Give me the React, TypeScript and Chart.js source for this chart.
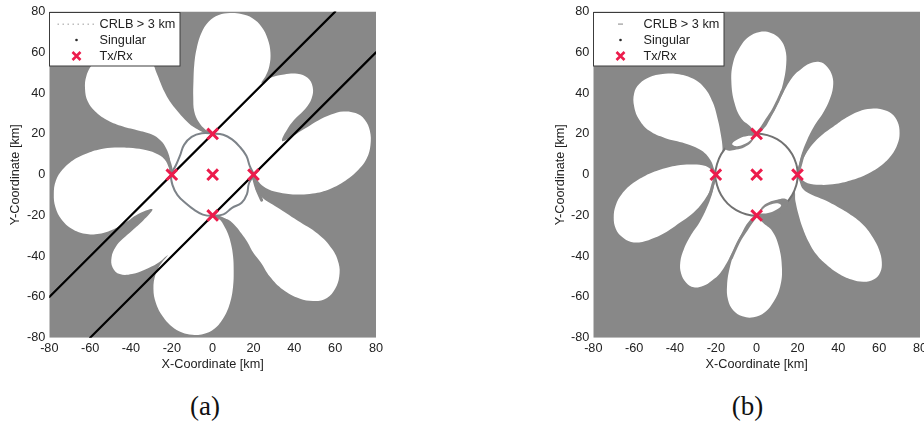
import React, { useEffect, useRef } from 'react';
import { Chart, registerables } from 'chart.js';

Chart.register(...registerables);

type Pt = [number, number];

// ---------- shared axis / text data ----------
const tickValues: number[] = [-80, -60, -40, -20, 0, 20, 40, 60, 80];
const xTitle = 'X-Coordinate [km]';
const yTitle = 'Y-Coordinate [km]';
const legendLabels: string[] = ['CRLB > 3 km', 'Singular', 'Tx/Rx'];
const captionLabels: string[] = ['(a)', '(b)'];

// Transmitter / receiver positions [km]
const txRx: Pt[] = [[0, 0], [0, 20], [20, 0], [0, -20], [-20, 0]];

// CRLB > 3 km region: whole window (the low-CRLB lobes are drawn over it)
const crlbWindow: Pt[] = [[-80, -80], [80, -80], [80, 80], [-80, 80], [-80, -80]];

// ---------- panel (a) ----------
const singularA1: Pt[] = [[-80, -60], [60, 80]];
const singularA2: Pt[] = [[-60, -80], [80, 60]];

const lobesA_NE: Pt[] = [
  [0, 12], [-1, 20.5], [-3.5, 22], [-6.8, 25.8], [-9, 31], [-9.5, 38], [-9.4, 46], [-9, 54], [-7.8, 62],
  [-5.5, 69.5], [-2, 75], [3, 78.3], [8.5, 79.3], [14, 78.8], [19.5, 76.8], [24, 72.5], [27, 66.5],
  [28.3, 60], [27.8, 53.5], [26, 48.5], [24, 45],
  [29, 47.8], [35, 49.2], [41.5, 49.5], [46.5, 47.5], [49, 43], [48.5, 37.5], [45.5, 32.5], [41, 28],
  [37, 23], [34, 16.5],
  [39, 18.8], [45, 22.5], [51.5, 26.5], [58, 29.5], [64, 31], [70, 30.2], [74.5, 27], [77, 21.5],
  [77.3, 14.5], [75.5, 8], [71.5, 2.5], [65, -3], [57.5, -7], [49, -9.3], [40.5, -9.7], [32, -8.6],
  [26, -6.5], [22.5, -3.5], [20.5, 0], [12, 2], [0, 12],
];
const lobesA_SW: Pt[] = [
  [0, -12], [1, -20.5], [3.5, -22], [5.5, -25], [7.5, -29], [9, -34], [10, -40], [10.3, -47], [10, -55],
  [8.5, -63], [5.5, -70], [1, -75.5], [-4.5, -78.2], [-10, -78.6], [-15, -77.5], [-20, -74.5],
  [-24.5, -69.5], [-27.8, -63], [-29, -56], [-28, -49], [-25.5, -44], [-22, -39.5],
  [-27, -43.5], [-33, -46.5], [-39.5, -48.8], [-45.5, -48.8], [-49, -45.5], [-49.5, -40.5],
  [-47.5, -35.5], [-44, -31.5], [-39.5, -27.5], [-34, -22.5], [-29.5, -17],
  [-36, -19], [-42, -23], [-48.5, -26.8], [-55.5, -29], [-62.5, -29], [-69, -26.5], [-74, -22],
  [-77, -16], [-77.8, -9.5], [-76.8, -3], [-73.5, 2.5], [-68.5, 7], [-62, 10.3], [-55, 12.5],
  [-48, 13.3], [-41, 13.2], [-34, 12.3], [-28, 10.5], [-23.5, 7.5], [-21.5, 3.5], [-20.5, 0],
  [-12, -2], [0, -12],
];
const lobeA_UL: Pt[] = [
  [-12, 10], [-20.3, 2], [-21, 8], [-22.8, 13], [-25.5, 16.8], [-30, 19.8], [-37, 21.8], [-45, 24],
  [-52, 27], [-57.5, 31], [-61.2, 36], [-62.5, 42], [-61.8, 48.5], [-58.5, 54.5], [-52, 59.5],
  [-44, 61.5], [-36, 59.5], [-30, 55.5], [-27.5, 50], [-25.5, 45], [-23.8, 41], [-21, 36],
  [-17.5, 31.5], [-13.5, 27], [-9.5, 23.5], [-5, 21.3], [-1.5, 20.5], [-5, 15], [-12, 10],
];
const lobeA_LR: Pt[] = [
  [12, -10], [20.3, -2], [21, -7], [24.5, -11.5], [31.5, -16], [41.5, -22.5], [51.5, -29],
  [58.5, -36.5], [61.7, -43.5], [62, -50], [60, -56], [56, -60.5], [50, -62], [42.5, -60.8],
  [34.5, -56.5], [28, -50], [23.5, -43], [20, -38.5], [17, -33], [14.2, -29], [11.5, -25.5],
  [7.5, -22], [3, -20.8], [5, -15], [12, -10],
];
const coreA: Pt[] = [
  [20.3, 0], [18.2, 4.2], [16.5, 9.3], [13.2, 13.8], [9.5, 17.3], [5.2, 19.6], [0, 20.2], [-5.3, 20.3],
  [-10.3, 18.5], [-14, 14.6], [-15.9, 9.6], [-18, 4.6], [-20.3, 0], [-19.7, -5], [-17.2, -10],
  [-13, -14.2], [-9, -17.3], [-4.8, -19.6], [0, -20.2], [5.3, -19.5], [9.5, -16.3], [14.2, -13.8],
  [16.8, -9.6], [17.8, -4.2], [20.3, 0],
];
const gapsA: Pt[][] = [
  [[-9, 24.5], [-6, 22.3], [-3, 20.9], [0, 20]],
  [[-24, 12.5], [-21.6, 7], [-20.4, 3], [-20, 0]],
  [[24, -12.5], [21.6, -7], [20.4, -3], [20, 0]],
  [[9, -24.5], [6, -22.3], [3, -20.9], [0, -20]],
];

// ---------- panel (b) ----------
const lobeB_T: Pt[] = [
  [0, 14], [-1, 20.5], [-3, 23.5], [-7.5, 27.5], [-10.8, 35], [-12.4, 46], [-11.5, 55], [-8.5, 62],
  [-4, 67.5], [1.5, 70], [7, 69.5], [11.5, 66.5], [14, 61.5], [14.5, 54.5], [13, 45], [9.8, 35.5],
  [5.5, 27.5], [2, 22], [1, 20.5], [0, 14],
];
const lobeB_UR: Pt[] = [
  [10, 10], [1.5, 19.8], [3, 22], [5, 24.5], [8, 30.2], [12.9, 40], [17.8, 48.2], [22, 52], [26, 54.5],
  [30.8, 55.3], [34.5, 53], [37, 48.5], [37.4, 43], [35.7, 36.7], [32.5, 30.2], [28, 23.5],
  [24.5, 16.5], [22, 10], [20.5, 4], [19.8, 1.5], [10, 10],
];
const lobeB_R: Pt[] = [
  [12, 2], [20.5, 0.5], [21.5, 5], [24, 10], [27.5, 15], [32, 19.5], [37.5, 23.5], [44, 28], [50, 31],
  [56, 32.3], [61.5, 32], [66, 30], [69, 26], [70, 20.5], [69, 15], [66, 9.5], [61, 4.5], [54.5, 0.5],
  [47, -2.5], [39, -4.5], [31, -5], [25, -4.2], [21.5, -2], [12, 2],
];
const lobeB_LR: Pt[] = [
  [12, -6], [19.5, -1.5], [22.7, -7], [27, -9.8], [33, -12.3], [40.6, -16.3], [47, -20.3], [52.5, -25],
  [57, -31], [60, -37], [61.3, -43], [60.5, -48], [57.5, -51.3], [52.5, -52.6], [46.5, -51.5],
  [40, -48.5], [34, -44], [29.2, -39.1], [25.5, -33], [22.5, -26], [20.5, -19.5], [19, -13], [18, -7],
  [12, -6],
];
const lobeB_B: Pt[] = [
  [0, -14], [1, -20.5], [3, -23.5], [7.5, -27.5], [10.8, -35], [12.4, -46], [11.5, -55], [8.5, -62],
  [4, -67.5], [-1.5, -70], [-7, -69.5], [-11.5, -66.5], [-14, -61.5], [-14.5, -54.5], [-13, -45],
  [-9.8, -35.5], [-5.5, -27.5], [-2, -22], [-1, -20.5], [0, -14],
];
const lobeB_LL: Pt[] = [
  [-10, -10], [-1.5, -19.8], [-3, -22], [-5, -24.5], [-8, -30.2], [-12.9, -40], [-17.8, -48.2],
  [-22, -52], [-26, -54.5], [-30.8, -55.3], [-34.5, -53], [-37, -48.5], [-37.4, -43], [-35.7, -36.7],
  [-32.5, -30.2], [-28, -23.5], [-24.5, -16.5], [-22, -10], [-20.5, -4], [-19.8, -1.5], [-10, -10],
];
const lobeB_L: Pt[] = [
  [-12, -2], [-20.5, -0.5], [-21.5, -5], [-24, -10], [-27.5, -15], [-32, -19.5], [-37.5, -23.5],
  [-44, -28], [-50, -31], [-56, -33], [-61.5, -33], [-66, -30.5], [-69, -26.5], [-70, -21], [-69, -15],
  [-66, -9.5], [-61, -4.5], [-54.5, -0.5], [-47, 2.5], [-39, 4.5], [-31, 5], [-25, 4.2], [-21.5, 2],
  [-12, -2],
];
const lobeB_UL: Pt[] = [
  [-12, 6], [-19.5, 1.5], [-22.5, 7], [-27, 11.8], [-35, 15.3], [-45, 18], [-52.5, 21.5], [-57.5, 27],
  [-60, 33.5], [-60, 40], [-57.5, 44.5], [-52, 48], [-45, 49.5], [-38, 49.3], [-31, 47], [-25.5, 42.5],
  [-21.5, 35.5], [-19, 27], [-17.5, 19.5], [-16.7, 13], [-17, 7], [-12, 6],
];
const coreB: Pt[] = [
  [20.3, 0], [19.4, 5.2], [17.4, 10], [14.2, 14.2], [10, 17.4], [5.2, 19.4], [0, 20.2], [-5.2, 19.4],
  [-10, 17.4], [-14.2, 14.2], [-17.4, 10], [-19.4, 5.2], [-20.3, 0], [-19.4, -5.2], [-17.4, -10],
  [-14.2, -14.2], [-10, -17.4], [-5.2, -19.4], [0, -20.2], [5.2, -19.4], [10, -17.4], [14.2, -14.2],
  [17.4, -10], [19.4, -5.2], [20.3, 0],
];
const gapsB: Pt[][] = [
  [[0, 20], [2.8, 23.5], [5.4, 27.5], [8, 31.5], [10.5, 36.5], [12.5, 41]],
  [[20, 0], [21.5, 5], [23, 10], [25.7, 15], [29, 19.5]],
  [[0, -20], [-2.8, -23.5], [-5.4, -27.5], [-8, -31.5], [-10.5, -36.5], [-12.5, -41]],
  [[-20, 0], [-21.5, -5], [-23, -10], [-25.7, -15], [-29, -19.5]],
];
const patchesB: Pt[][] = [
  [[-0.5, 20.5], [-5, 21], [-10, 20], [-13.5, 17.5], [-15.5, 13.5], [-14, 11.8], [-10, 12.3], [-6, 13.5], [-2.5, 16], [-0.5, 20.5]],
  [[0.5, -20.5], [5, -21], [10, -20], [13.5, -17.5], [15.5, -13.5], [14, -11.8], [10, -12.3], [6, -13.5], [2.5, -16], [0.5, -20.5]],
];
const lensesB: Pt[][] = [
  [[-1.5, 19], [-4.5, 19], [-8.5, 17.8], [-12, 15.2], [-10, 14], [-6.5, 14.8], [-3.5, 16.5], [-1.5, 19]],
  [[1.5, -19], [4.5, -19], [8.5, -17.8], [12, -15.2], [10, -14], [6.5, -14.8], [3.5, -16.5], [1.5, -19]],
];

// ---------- styles ----------
const CRLB_GRAY = '#888888';
const TX_RED = '#ec1c4c';
const FONT = '"Liberation Sans", Arial, Helvetica, sans-serif';
const TEXT = '#222222';

Chart.defaults.font.family = FONT;

const xy = (pts: Pt[]) => pts.map(([x, y]) => ({ x, y }));

function areaSet(pts: Pt[], color: string, order: number, tension = 0.4, border = 'rgba(0,0,0,0)', bw = 0, label = '') {
  return {
    label, data: xy(pts), showLine: true, fill: 'shape', backgroundColor: color,
    borderColor: border, borderWidth: bw, pointRadius: 0, pointHoverRadius: 0, tension, order,
  };
}
function strokeSet(pts: Pt[], color: string, width: number, order: number, tension = 0, label = '') {
  return {
    label, data: xy(pts), showLine: true, fill: false, borderColor: color, backgroundColor: color,
    borderWidth: width, pointRadius: 0, pointHoverRadius: 0, tension, order, borderCapStyle: 'round',
  };
}

interface PanelSpec {
  lobes: Pt[][];
  core: Pt[];
  coreColor: string;
  gaps: Pt[][];
  patches: Pt[][];
  lenses: Pt[][];
  singular: Pt[][];
  yAxisWidth: number;
  rightPad: number;
  yTitleOffset: number;
  crlbMarker: 'dots' | 'dash';
}

function legendPlugin(style: 'dots' | 'dash') {
  return {
    id: 'boxLegend',
    afterDraw(chart: any) {
      const { ctx, chartArea } = chart;
      const x0 = Math.round(chartArea.left) + 0.5;
      const y0 = Math.round(chartArea.top) + 0.5;
      const w = 130.5, h = 53.5;
      ctx.save();
      ctx.fillStyle = '#ffffff';
      ctx.fillRect(x0, y0, w, h);
      ctx.strokeStyle = '#3c3c3c';
      ctx.lineWidth = 1;
      ctx.strokeRect(x0, y0, w, h);
      const rows = [11.5, 27.5, 43.5];
      const mx = x0 + 27;
      ctx.font = `12.7px ${FONT}`;
      ctx.fillStyle = TEXT;
      ctx.textBaseline = 'middle';
      ctx.textAlign = 'left';
      legendLabels.forEach((t, i) => ctx.fillText(t, x0 + 50, y0 + rows[i]));
      // CRLB marker
      ctx.fillStyle = '#bdbdbd';
      if (style === 'dots') {
        for (let px = x0 + 8; px <= x0 + 44; px += 5) ctx.fillRect(px, y0 + rows[0] - 0.5, 1.5, 1.5);
      } else {
        ctx.fillStyle = '#9a9a9a';
        ctx.fillRect(mx - 2.5, y0 + rows[0] - 0.5, 5, 1.2);
      }
      // Singular marker
      ctx.fillStyle = '#2a2a2a';
      ctx.beginPath();
      ctx.arc(mx, y0 + rows[1], 1.3, 0, Math.PI * 2);
      ctx.fill();
      // Tx/Rx marker
      ctx.strokeStyle = TX_RED;
      ctx.lineWidth = 2.6;
      const r = 4, cy = y0 + rows[2];
      ctx.beginPath();
      ctx.moveTo(mx - r, cy - r); ctx.lineTo(mx + r, cy + r);
      ctx.moveTo(mx + r, cy - r); ctx.lineTo(mx - r, cy + r);
      ctx.stroke();
      ctx.restore();
    },
  };
}

function buildConfig(p: PanelSpec): any {
  const datasets: any[] = [];
  datasets.push(areaSet(crlbWindow, CRLB_GRAY, 100, 0, 'rgba(0,0,0,0)', 0, legendLabels[0]));
  p.lobes.forEach((l) => datasets.push(areaSet(l, '#ffffff', 90, 0.4)));
  p.gaps.forEach((g) => datasets.push(strokeSet(g, CRLB_GRAY, 3, 80, 0.4)));
  datasets.push(areaSet(p.core, '#ffffff', 70, 0.4, p.coreColor, 2));
  p.patches.forEach((g) => datasets.push(areaSet(g, CRLB_GRAY, 60, 0.4)));
  p.lenses.forEach((g) => datasets.push(areaSet(g, '#ffffff', 55, 0.4)));
  p.singular.forEach((s, i) => datasets.push(strokeSet(s, '#000000', 2.2, 20, 0, i === 0 ? legendLabels[1] : '')));
  datasets.push({
    label: legendLabels[2], data: xy(txRx), showLine: false, pointStyle: 'crossRot', pointRadius: 7.5,
    pointBorderWidth: 3, pointBorderColor: TX_RED, pointBackgroundColor: TX_RED, borderColor: TX_RED, order: 0,
  });

  const tickFont = { size: 12.7, family: FONT };
  const setTicks = (s: any) => { s.ticks = tickValues.map((v) => ({ value: v })); };

  return {
    type: 'scatter',
    data: { datasets },
    options: {
      responsive: false,
      animation: false,
      events: [],
      layout: { padding: { left: 0, right: p.rightPad, top: 10.7, bottom: 0 } },
      plugins: { legend: { display: false }, tooltip: { enabled: false } },
      scales: {
        x: {
          type: 'linear', min: -80, max: 80,
          grid: { display: false, drawTicks: false },
          border: { display: false },
          ticks: { font: tickFont, color: TEXT, padding: 3, maxRotation: 0 },
          afterBuildTicks: setTicks,
          afterFit: (s: any) => { s.height = 42.3; },
          title: { display: true, text: xTitle, font: tickFont, color: TEXT, padding: { top: 0, bottom: 7.4 } },
        },
        y: {
          type: 'linear', min: -80, max: 80,
          grid: { display: false, drawTicks: false },
          border: { display: false },
          ticks: { font: tickFont, color: TEXT, padding: 4 },
          afterBuildTicks: setTicks,
          afterFit: (s: any) => { s.width = p.yAxisWidth; },
          title: { display: true, text: yTitle, font: tickFont, color: TEXT, padding: { top: p.yTitleOffset - 7.62, bottom: 0 } },
        },
      },
    },
    plugins: [legendPlugin(p.crlbMarker)],
  };
}

const panelA: PanelSpec = {
  lobes: [lobesA_NE, lobesA_SW, lobeA_UL, lobeA_LR],
  core: coreA,
  coreColor: '#7d8389',
  gaps: gapsA,
  patches: [],
  lenses: [],
  singular: [singularA1, singularA2],
  yAxisWidth: 49.3,
  rightPad: 24,
  yTitleOffset: 15.3,
  crlbMarker: 'dots',
};

const panelB: PanelSpec = {
  lobes: [lobeB_T, lobeB_UR, lobeB_R, lobeB_LR, lobeB_B, lobeB_LL, lobeB_L, lobeB_UL],
  core: coreB,
  coreColor: '#727272',
  gaps: gapsB,
  patches: patchesB,
  lenses: lensesB,
  singular: [],
  yAxisWidth: 53.3,
  rightPad: 20,
  yTitleOffset: 20,
  crlbMarker: 'dash',
};

function Panel({ spec, left }: { spec: PanelSpec; left: number }) {
  const ref = useRef<HTMLCanvasElement>(null);
  useEffect(() => {
    const chart = new Chart(ref.current as HTMLCanvasElement, buildConfig(spec));
    return () => chart.destroy();
  }, []);
  return (
    <canvas
      ref={ref}
      width={400}
      height={380}
      style={{ position: 'absolute', left, top: 0, width: 400, height: 380 }}
    />
  );
}

const captionStyle = (center: number): React.CSSProperties => ({
  position: 'absolute', left: center - 50, top: 390, width: 100, height: 32, lineHeight: '32px',
  textAlign: 'center', fontFamily: '"Liberation Serif", "DejaVu Serif", serif', fontSize: 27, color: '#111',
});

export default function App() {
  return (
    <div style={{ position: 'fixed', left: 0, top: 0, width: 924, height: 425, overflow: 'hidden', background: '#ffffff' }}>
      <Panel spec={panelA} left={0} />
      <Panel spec={panelB} left={540} />
      <div style={captionStyle(205)}>{captionLabels[0]}</div>
      <div style={captionStyle(747.5)}>{captionLabels[1]}</div>
    </div>
  );
}
